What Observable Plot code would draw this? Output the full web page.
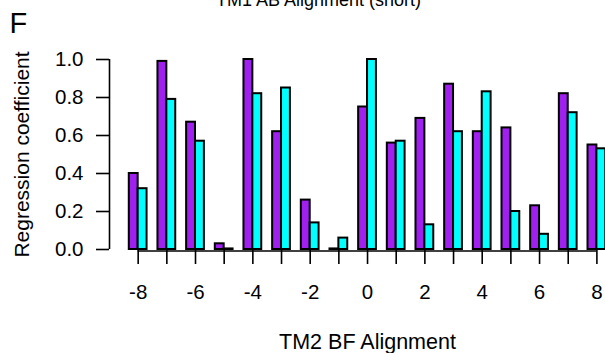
<!DOCTYPE html>
<html>
<head>
<meta charset="utf-8">
<script src="https://cdn.jsdelivr.net/npm/d3@7"></script>
<script src="https://cdn.jsdelivr.net/npm/@observablehq/plot@0.6"></script>
<style>
  html, body { margin: 0; padding: 0; background: white; }
  #chart { width: 605px; height: 353px; overflow: hidden; position: relative; }
  #chart svg { overflow: hidden; }
</style>
</head>
<body>
<div id="chart"></div>
<script>
// Data
const positions = [-8, -7, -6, -5, -4, -3, -2, -1, 0, 1, 2, 3, 4, 5, 6, 7, 8];
const purpleValues = [0.40, 0.99, 0.67, 0.03, 1.00, 0.62, 0.26, 0.003, 0.75, 0.56, 0.69, 0.87, 0.62, 0.64, 0.23, 0.82, 0.55];
const cyanValues   = [0.32, 0.79, 0.57, 0.003, 0.82, 0.85, 0.14, 0.06, 1.00, 0.57, 0.13, 0.62, 0.83, 0.20, 0.08, 0.72, 0.53];
const xTicks = [-8, -7, -6, -5, -4, -3, -2, -1, 0, 1, 2, 3, 4, 5, 6, 7, 8];
const yTicks = [0, 0.2, 0.4, 0.6, 0.8, 1.0];
const seriesNames = ["series1", "series2"];
const seriesColors = ["#A020F0", "#00FFFF"];
const titleText = "TM1 AB Alignment (short)";
const panelLetter = "F";
const xLabel = "TM2 BF Alignment";
const yLabel = "Regression coefficient";

const barWidth = 0.31;
const rows = [];
positions.forEach((p, i) => {
  rows.push({pos: p, series: seriesNames[0], value: purpleValues[i]});
  rows.push({pos: p, series: seriesNames[1], value: cyanValues[i]});
});

const xDomain = [-9, 8.3];
const font = "'Liberation Sans', Arial, Helvetica, sans-serif";

const chart = Plot.plot({
  width: 605,
  height: 353,
  marginLeft: 109,
  marginRight: 0,
  marginTop: 59,
  marginBottom: 104,
  style: {fontFamily: font, fontSize: "20px", color: "black", background: "white"},
  x: {domain: xDomain, axis: null},
  y: {domain: [0, 1], axis: null},
  color: {domain: seriesNames, range: seriesColors},
  marks: [
    // x axis line from first to last tick
    Plot.ruleY([0], {x1: xTicks[0], x2: xTicks[xTicks.length - 1], dy: 1.5, stroke: "black", strokeWidth: 1.6}),
    // y axis line
    Plot.ruleX([xDomain[0]], {y1: yTicks[0], y2: yTicks[yTicks.length - 1], stroke: "black", strokeWidth: 1.6}),
    Plot.rectY(rows, {
      x1: d => d.series === seriesNames[0] ? d.pos - barWidth : d.pos,
      x2: d => d.series === seriesNames[0] ? d.pos : d.pos + barWidth,
      y1: 0,
      y2: "value",
      fill: "series",
      stroke: "black",
      strokeWidth: 2
    }),
    Plot.axisX({
      ticks: xTicks,
      tickFormat: d => (d % 2 === 0 ? String(d) : ""),
      tickSize: 15,
      tickPadding: 20,
      strokeWidth: 1.6,
      fontSize: 20.5,
      label: null
    }),
    Plot.axisY({
      ticks: yTicks,
      tickFormat: d3.format(".1f"),
      tickSize: 13,
      tickPadding: 13,
      strokeWidth: 1.6,
      fontSize: 20.5,
      label: null
    }),
    Plot.text([yLabel], {text: d => d, frameAnchor: "left", textAnchor: "middle", rotate: -90, dx: -87, fontSize: 21}),
    Plot.text([xLabel], {text: d => d, frameAnchor: "bottom", textAnchor: "middle", dx: 10, dy: 99, fontSize: 21.5}),
    Plot.text([titleText], {text: d => d, frameAnchor: "top", textAnchor: "middle", dx: -39, dy: -54, lineAnchor: "bottom", fontSize: 18}),
    Plot.text([panelLetter], {text: d => d, frameAnchor: "top-left", textAnchor: "start", dx: -100, dy: -27, lineAnchor: "bottom", fontSize: 29})
  ]
});
document.getElementById("chart").appendChild(chart);
</script>
</body>
</html>
